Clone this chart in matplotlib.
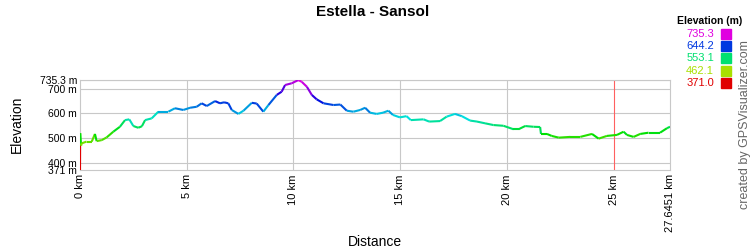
import colorsys
import numpy as np
import matplotlib
matplotlib.use("Agg")
import matplotlib.pyplot as plt
from matplotlib.collections import LineCollection

plt.rcParams['font.family'] = ['Liberation Sans', 'DejaVu Sans']

# profile (km, m)
distance_km = [0.0, 0.005, 0.01, 0.05, 0.08, 0.31, 0.55, 0.70, 0.78, 1.02, 1.25, 1.56, 1.87,
               2.11, 2.31, 2.50, 2.73, 2.90, 3.05, 3.36, 3.67, 4.14, 4.45, 4.84, 5.16, 5.47,
               5.70, 5.94, 6.33, 6.56, 6.75, 6.95, 7.11, 7.42, 7.66, 8.05, 8.28, 8.59, 8.83,
               9.22, 9.45, 9.61, 9.92, 10.23, 10.39, 10.63, 10.86, 11.09, 11.41, 11.88,
               12.20, 12.50, 12.81, 13.13, 13.36, 13.59, 13.90, 14.20, 14.45, 14.66, 14.99,
               15.30, 15.50, 16.10, 16.36, 16.87, 17.18, 17.57, 17.89, 18.28, 18.60, 18.98,
               19.37, 19.84, 20.31, 20.55, 20.86, 21.25, 21.56, 21.60, 21.88, 22.10, 22.43,
               22.97, 23.44, 23.99, 24.30, 24.69, 25.16, 25.47, 25.63, 25.94, 26.25, 26.64,
               27.18, 27.50, 27.6451]
elevation_m = [371, 475, 520, 470, 479, 486, 486, 517, 488, 492, 503, 526, 546,
               573, 576, 549, 542, 548, 573, 580, 607, 607, 621, 614, 623, 627,
               641, 630, 650, 641, 645, 641, 614, 598, 611, 643, 640, 607, 634,
               675, 688, 715, 722, 735, 728, 708, 675, 657, 641, 634,
               636, 611, 607, 614, 623, 603, 598, 603, 611, 594, 584,
               589, 573, 576, 567, 569, 587, 598, 589, 571, 567, 560,
               553, 550, 536, 536, 549, 546, 545, 517, 517, 509, 502,
               505, 505, 517, 498, 509, 513, 526, 513, 505, 517, 522,
               522, 540, 546]

ytick_vals = [371, 400, 500, 600, 700, 735.3]
ytick_labels = ['371 m', '400 m', '500 m', '600 m', '700 m', '735.3 m']
xtick_vals = [0, 5, 10, 15, 20, 25, 27.6451]
xtick_labels = ['0 km', '5 km', '10 km', '15 km', '20 km', '25 km', '27.6451 km']
legend_vals = ['735.3', '644.2', '553.1', '462.1', '371.0']
marker_km = 25

e_min, e_max = 371.0, 735.3


def elev_color(e):
    h = (e - e_min) / (e_max - e_min) * 300 / 360
    return colorsys.hsv_to_rgb(h, 1.0, 0.88)


fig = plt.figure(figsize=(7.5, 2.5), dpi=100)
ax = fig.add_axes([80 / 750, 80 / 250, 590 / 750, 90 / 250])

ax.set_xlim(0, 27.6451)
ax.set_ylim(e_min, e_max)

grid_c = '#c8c8c8'
for v in ytick_vals[1:]:
    ax.axhline(v, color=grid_c, lw=0.8, zorder=1)
for v in xtick_vals[1:-1]:
    if v != marker_km:
        ax.axvline(v, color=grid_c, lw=0.8, zorder=1)
ax.axvline(marker_km, color='#ff6060', lw=0.8, zorder=1)

for s in ax.spines.values():
    s.set_color(grid_c)
    s.set_linewidth(0.8)

pts = np.column_stack([distance_km, elevation_m])
segs = np.stack([pts[:-1], pts[1:]], axis=1)
cols = [elev_color(e) for e in elevation_m[:-1]]
lc = LineCollection(segs, colors=cols, linewidths=1.5, zorder=3, capstyle='butt')
ax.add_collection(lc)

ax.set_yticks(ytick_vals)
ax.set_yticklabels(ytick_labels, fontsize=7.5)
ax.set_xticks(xtick_vals)
ax.set_xticklabels(xtick_labels, fontsize=8, rotation=90)
ax.tick_params(length=0, pad=3)
ax.tick_params(axis='y', pad=2)

fig.text(375 / 750, 1 - 242 / 250, 'Distance', ha='center', va='center', fontsize=10)
fig.text(17 / 750, 1 - 124 / 250, 'Elevation', ha='center', va='center', fontsize=10,
         rotation=90)
fig.text(373 / 750, 1 - 12 / 250, 'Estella - Sansol', ha='center', va='center',
         fontsize=11, fontweight='bold')

# colour legend
fig.text(742 / 750, 1 - 21 / 250, 'Elevation (m)', ha='right', va='center',
         fontsize=7.5, fontweight='bold')
for i, lab in enumerate(legend_vals):
    y = 34 + i * 12.2
    c = elev_color(float(lab))
    fig.text(714 / 750, 1 - y / 250, lab, ha='right', va='center', fontsize=8, color=c)
    fig.patches.append(plt.Rectangle((721 / 750, 1 - (y + 5) / 250), 10 / 750, 10 / 250,
                                     transform=fig.transFigure, color=c, figure=fig))

fig.text(745 / 750, 1 - 125 / 250, 'created by GPSVisualizer.com', ha='center', va='center',
         fontsize=9, color='#666666', rotation=90)

fig.savefig('out.png', dpi=100)
